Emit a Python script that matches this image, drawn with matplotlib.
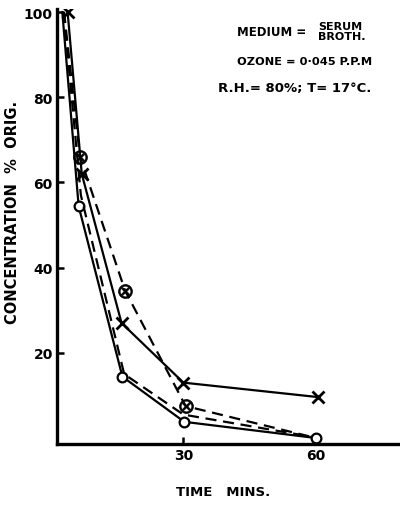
import matplotlib
matplotlib.use("Agg")
import matplotlib.pyplot as plt

# time (mins) and concentration (% of original)
t_cross = [3.8, 7.0, 16.0, 30.0, 60.5]
c_cross = [100, 62, 27, 13, 9.6]

t_otimes = [3.0, 6.6, 16.8, 30.5, 60.0]
c_otimes = [100, 66, 34.6, 7.5, 0]

t_circle = [2.6, 6.3, 16.2, 30.2, 60.0]
c_circle = [100, 54.4, 14.4, 3.8, 0]

t_circle2 = [2.9, 6.8, 16.6, 30.0, 59.0]
c_circle2 = [100, 57, 15, 5.5, 0.3]

x_ticks = [30, 60]
y_ticks = [20, 40, 60, 80, 100]

fig = plt.figure(figsize=(4.0, 5.06), dpi=100)
ax = fig.add_axes([0.1425, 0.1206, 0.8575, 0.8596])

lw = 1.6
ax.plot(t_cross, c_cross, color="black", lw=lw, marker="x", ms=8, mew=2)
ax.plot(t_otimes, c_otimes, color="black", lw=lw, ls=(0, (5, 3)),
        marker="$\\otimes$", ms=10, mew=0.5, markevery=[1, 2, 3])
ax.plot(t_circle, c_circle, color="black", lw=lw, marker="o", ms=7,
        mfc="white", mew=1.6, markevery=[1, 2, 3, 4])
ax.plot(t_circle2, c_circle2, color="black", lw=lw, ls=(0, (5, 3)))

ax.set_xlim(1.4, 79)
ax.set_ylim(-1.4, 100.7)
ax.spines["top"].set_visible(False)
ax.spines["right"].set_visible(False)
ax.spines["left"].set_linewidth(2.4)
ax.spines["bottom"].set_linewidth(2.4)

ax.set_xticks(x_ticks)
ax.set_yticks(y_ticks)
ax.tick_params(direction="in", length=5, width=1.8, labelsize=10, pad=3)
for lab in ax.get_xticklabels() + ax.get_yticklabels():
    lab.set_fontweight("bold")

fig.text(0.032, 0.58, "CONCENTRATION  %  ORIG.", rotation=90, fontsize=10.5,
         fontweight="bold", ha="center", va="center")
fig.text(0.557, 0.026, "TIME   MINS.", fontsize=9.5, fontweight="bold",
         ha="center", va="center")

ax.text(0.525, 0.949, "MEDIUM =", transform=ax.transAxes, fontsize=8.5,
        fontweight="bold", va="center")
ax.text(0.761, 0.949, "SERUM\nBROTH.", transform=ax.transAxes, fontsize=8,
        fontweight="bold", va="center", linespacing=0.95)
ax.text(0.525, 0.88, "OZONE = 0·045 P.P.M", transform=ax.transAxes,
        fontsize=8.2, fontweight="bold", va="center")
ax.text(0.469, 0.82, "R.H.= 80%; T= 17°C.", transform=ax.transAxes,
        fontsize=9.5, fontweight="bold", va="center")

fig.savefig("out.png", dpi=100)
